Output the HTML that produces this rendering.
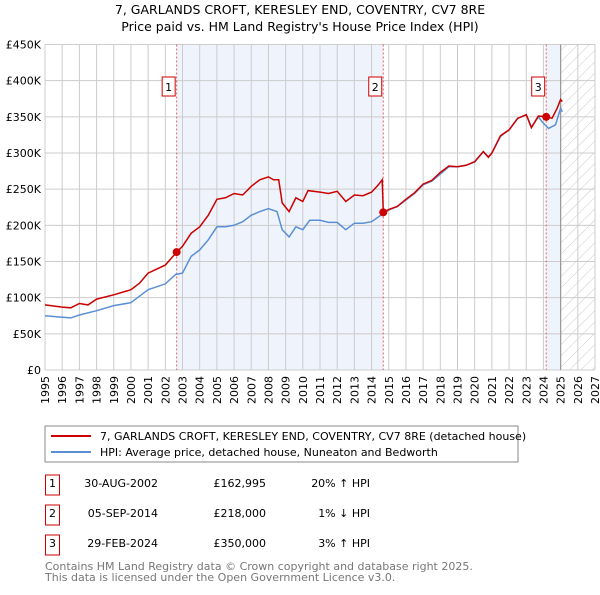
<!DOCTYPE html>
<html><head><meta charset="utf-8"><style>
body{margin:0;background:#fff;font-family:"Liberation Sans","DejaVu Sans",sans-serif;}
svg text{font-family:"DejaVu Sans","Liberation Sans",sans-serif;}
</style></head><body>
<svg width="600" height="590" viewBox="0 0 600 590" id="c">
<defs><pattern id="h" width="8" height="8" patternUnits="userSpaceOnUse" patternTransform="rotate(45)"><line x1="0" y1="0" x2="0" y2="8" stroke="#ccc" stroke-width="1"/></pattern></defs>
<text x="300" y="14" text-anchor="middle" font-size="12.5">7, GARLANDS CROFT, KERESLEY END, COVENTRY, CV7 8RE</text>
<text x="300" y="31" text-anchor="middle" font-size="12.5">Price paid vs. HM Land Registry's House Price Index (HPI)</text>
<g id="plot"></g>
<rect x="45" y="426" width="473" height="36" fill="#fff" stroke="#888"/>
<line x1="51" y1="436" x2="91" y2="436" stroke="#cc0000" stroke-width="2"/>
<text x="100" y="440" font-size="11">7, GARLANDS CROFT, KERESLEY END, COVENTRY, CV7 8RE (detached house)</text>
<line x1="51" y1="452" x2="91" y2="452" stroke="#5b8fd4" stroke-width="2"/>
<text x="100" y="456" font-size="11">HPI: Average price, detached house, Nuneaton and Bedworth</text>
<g font-size="11">
<rect x="45.5" y="475" width="14" height="20" fill="none" stroke="#cc0000"/><text x="52.5" y="487" text-anchor="middle">1</text>
<text x="158" y="487" text-anchor="end">30-AUG-2002</text><text x="266" y="487" text-anchor="end">£162,995</text><text x="370" y="487" text-anchor="end">20% ↑ HPI</text>
<rect x="45.5" y="505" width="14" height="20" fill="none" stroke="#cc0000"/><text x="52.5" y="517" text-anchor="middle">2</text>
<text x="158" y="517" text-anchor="end">05-SEP-2014</text><text x="266" y="517" text-anchor="end">£218,000</text><text x="370" y="517" text-anchor="end">1% ↓ HPI</text>
<rect x="45.5" y="535" width="14" height="20" fill="none" stroke="#cc0000"/><text x="52.5" y="547" text-anchor="middle">3</text>
<text x="158" y="547" text-anchor="end">29-FEB-2024</text><text x="266" y="547" text-anchor="end">£350,000</text><text x="370" y="547" text-anchor="end">3% ↑ HPI</text>
</g>
<text x="45" y="570" font-size="11" fill="#777">Contains HM Land Registry data © Crown copyright and database right 2025.</text>
<text x="45" y="581" font-size="11" fill="#777">This data is licensed under the Open Government Licence v3.0.</text>
</svg>
<script>
const hpiYears=[1995,1996,1996.5,1997,1998,1999,2000,2000.5,2001,2002,2002.6,2003,2003.5,2004,2004.5,2005,2005.5,2006,2006.5,2007,2007.5,2008,2008.5,2008.8,2009.2,2009.6,2010,2010.4,2011,2011.5,2012,2012.5,2013,2013.5,2014,2014.6,2015,2015.5,2016,2016.5,2017,2017.5,2018,2018.5,2019,2019.5,2020,2020.5,2020.8,2021,2021.5,2022,2022.5,2023,2023.3,2023.7,2024,2024.3,2024.7,2025,2025.1];
const hpiValues=[75,73,72,76,82,89,93,102,111,119,132,134,157,166,180,198,198,200,205,214,219,223,219,194,184,198,194,207,207,204,204,194,203,203,205,215,221,226,235,244,256,261,271,281,281,283,288,302,295,300,323,332,348,353,336,350,341,334,339,362,357];
const propYears=[1995,1996,1996.5,1997,1997.5,1998,1999,2000,2000.5,2001,2002,2002.66,2003,2003.5,2004,2004.5,2005,2005.5,2006,2006.5,2007,2007.5,2008,2008.3,2008.6,2008.8,2009.2,2009.6,2010,2010.3,2011,2011.5,2012,2012.5,2013,2013.5,2014,2014.4,2014.62,2014.68,2015,2015.5,2016,2016.5,2017,2017.5,2018,2018.5,2019,2019.5,2020,2020.5,2020.8,2021,2021.5,2022,2022.5,2023,2023.3,2023.7,2024.16,2024.5,2024.8,2025,2025.1];
const propValues=[90,87,86,92,90,98,104,111,120,134,145,163,171,189,198,214,236,238,244,242,254,263,267,263,263,231,219,238,233,248,246,244,247,233,242,241,246,256,263,218,222,226,236,245,257,262,273,282,281,283,288,302,294,300,324,332,348,353,335,351,350,348,362,374,371];
const saleYears=[2002.66,2014.68,2024.16];
const saleValues=[163,218,350];
const saleLabels=["1","2","3"];
const yTicks=[0,50,100,150,200,250,300,350,400,450];
const xTicks=[1995,1996,1997,1998,1999,2000,2001,2002,2003,2004,2005,2006,2007,2008,2009,2010,2011,2012,2013,2014,2015,2016,2017,2018,2019,2020,2021,2022,2023,2024,2025,2026,2027];

const X0=45,X1=595,Y0=370,Y1=44.5,dataEnd=2025.0;
const sx=y=>X0+(y-1995)/(2027-1995)*(X1-X0);
const sy=v=>Y0-v/450*(Y0-Y1);
const NS="http://www.w3.org/2000/svg";
const g=document.getElementById('plot');
function mk(t,a,p){const e=document.createElementNS(NS,t);for(const k in a)e.setAttribute(k,a[k]);(p||g).appendChild(e);return e;}

const bg=mk('rect',{x:X0,y:Y1,width:X1-X0,height:Y0-Y1,fill:'#fff'});


const s1=mk('rect',{x:sx(saleYears[0]),y:Y1,width:sx(saleYears[1])-sx(saleYears[0]),height:Y0-Y1,fill:'#eef3fc'});


const s2=mk('rect',{x:sx(saleYears[2]),y:Y1,width:sx(dataEnd)-sx(saleYears[2]),height:Y0-Y1,fill:'#eef3fc'});


const ht=mk('rect',{x:sx(dataEnd),y:Y1,width:X1-sx(dataEnd),height:Y0-Y1,fill:'url(#h)'});



xTicks.forEach(t=>{
  const l=mk('line',{x1:sx(t),x2:sx(t),y1:Y1,y2:Y0,stroke:'#ccc','stroke-width':1});
  
  
  const tx=mk('text',{x:0,y:0,'font-size':11,'text-anchor':'end',transform:`translate(${sx(t)+4},${Y0+6}) rotate(-90)`});
  tx.textContent=t;
  
  
});
yTicks.forEach(t=>{
  const l=mk('line',{x1:X0,x2:X1,y1:sy(t),y2:sy(t),stroke:'#ccc','stroke-width':1});
  
  
  const tx=mk('text',{x:X0-4,y:sy(t)+4,'font-size':11,'text-anchor':'end'});
  tx.textContent=t===0?'£0':'£'+t+'K';
  
  
});
const de=mk('line',{x1:sx(dataEnd),x2:sx(dataEnd),y1:Y1,y2:Y0,stroke:'#999','stroke-width':1.2});



saleYears.forEach((y,i)=>{
  const l=mk('line',{x1:sx(y),x2:sx(y),y1:Y1,y2:Y0,stroke:'#e06060','stroke-width':1,'stroke-dasharray':'2,2'});
  
  
});

const hp=mk('path',{d:hpiYears.map((y,i)=>(i?'L':'M')+sx(y).toFixed(1)+','+sy(hpiValues[i]).toFixed(1)).join(''),fill:'none',stroke:'#5b8fd4','stroke-width':1.5});


const pp=mk('path',{d:propYears.map((y,i)=>(i?'L':'M')+sx(y).toFixed(1)+','+sy(propValues[i]).toFixed(1)).join(''),fill:'none',stroke:'#cc0000','stroke-width':1.5});



saleYears.forEach((y,i)=>{
  const c=mk('circle',{cx:sx(y),cy:sy(saleValues[i]),r:4,fill:'#cc0000'});
  
  
  const r=mk('rect',{x:sx(y)-14.5,y:77,width:13,height:19,fill:'#fff',stroke:'#cc0000'});
  
  
  const t=mk('text',{x:sx(y)-8,y:91,'font-size':11,'text-anchor':'middle'});
  t.textContent=saleLabels[i];
  
  
});
</script>
</body></html>
